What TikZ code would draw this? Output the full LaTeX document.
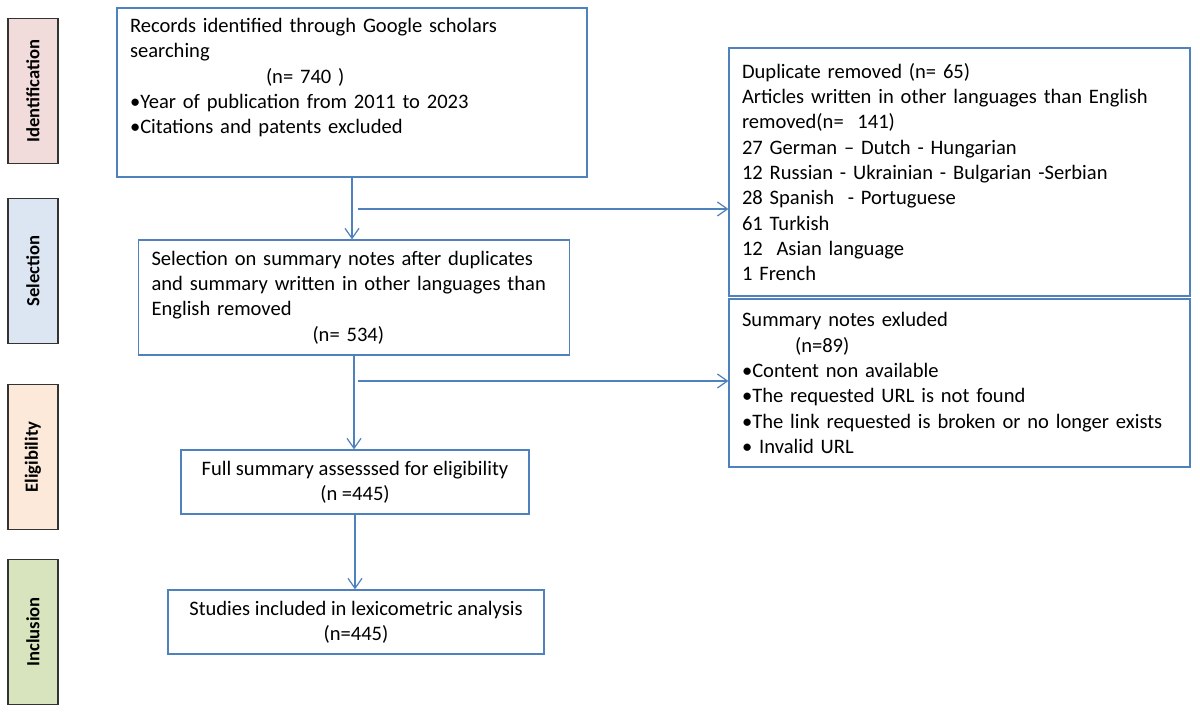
\documentclass[tikz,border=0pt]{standalone}
\usepackage{fontspec}
\setmainfont{Carlito}
\usetikzlibrary{arrows.meta}
\definecolor{boxBlue}{RGB}{79,129,189}
\definecolor{idPink}{RGB}{242,220,219}
\definecolor{selBlue}{RGB}{220,230,242}
\definecolor{eligPeach}{RGB}{253,233,217}
\definecolor{inclGreen}{RGB}{215,228,189}

\begin{document}
\begin{tikzpicture}[x=0.02cm,y=-0.02cm,
        font=\fontsize{11.7}{14.4}\selectfont,
        stageNode/.style = {draw=black!80,line width=0.9pt,rotate=90,minimum width=2.9cm,minimum height=1cm,inner sep=0pt,font=\fontsize{10.6}{12}\selectfont\bfseries},
        boxNode/.style = {draw=boxBlue,line width=0.7pt,inner xsep=0.26cm,inner ysep=0pt},
        leftBox/.style = {boxNode,align=left},
        centerBox/.style = {boxNode,align=center},
        flowArrow/.style = {draw=boxBlue,line width=0.7pt,-{Straight Barb[length=2mm,width=2.8mm]}}
        ]
        \useasboundingbox (0,0) rectangle (1200,715);

        % stages on the left
        \node[stageNode,fill=idPink] (identification) at (33,91) {Identification};
        \node[stageNode,fill=selBlue] (selectionStage) at (33,271) {Selection};
        \node[stageNode,fill=eligPeach] (eligibility) at (33,457) {Eligibility};
        \node[stageNode,fill=inclGreen] (inclusion) at (33,632) {Inclusion};

        % main flow
        \node[leftBox,text width=8.88cm,minimum height=3.38cm] (records) at (352,92.5) {Records identified through Google scholars\\
            searching\\
            \hspace*{2.72cm}(n= 740 )\\
            •Year of publication from 2011 to 2023\\
            •Citations and patents excluded\\
            \strut};
        \node[leftBox,text width=8.1cm,minimum height=2.3cm] (selection) at (354,297.5) {Selection on summary notes after duplicates\\
            and summary written in other languages than\\
            English removed\\
            \hspace*{3.22cm}(n= 534)};
        \node[centerBox,minimum width=6.96cm,minimum height=1.28cm] (assessed) at (355,482) {Full summary assesssed for eligibility\\(n =445)};
        \node[centerBox,minimum width=7.52cm,minimum height=1.28cm] (included) at (356,622) {Studies included in lexicometric analysis\\(n=445)};

        % excluded records on the right
        \node[leftBox,text width=8.7cm,minimum height=4.96cm] (removed) at (959.5,172) {Duplicate removed (n= 65)\\
            Articles written in other languages than English\\
            removed(n=\ \ 141)\\
            27 German – Dutch - Hungarian\\
            12 Russian - Ukrainian - Bulgarian -Serbian\\
            28 Spanish\ \ - Portuguese\\
            61 Turkish\\
            12\ \ Asian language\\
            1 French};
        \node[leftBox,text width=8.7cm,minimum height=3.36cm] (excluded) at (959.5,383) {Summary notes exluded\\
            \hspace*{1.06cm}(n=89)\\
            •Content non available\\
            •The requested URL is not found\\
            •The link requested is broken or no longer exists\\
            • Invalid URL};

        \coordinate (splitA) at (358,209);
        \coordinate (splitB) at (358,381);

        \draw[flowArrow] (records.south) -- (records.south |- selection.north);
        \draw[flowArrow] (splitA) -- (splitA -| removed.west);
        \draw[flowArrow] (selection.south) -- (selection.south |- assessed.north);
        \draw[flowArrow] (splitB) -- (splitB -| excluded.west);
        \draw[flowArrow] (assessed.south) -- (assessed.south |- included.north);
\end{tikzpicture}
\end{document}
